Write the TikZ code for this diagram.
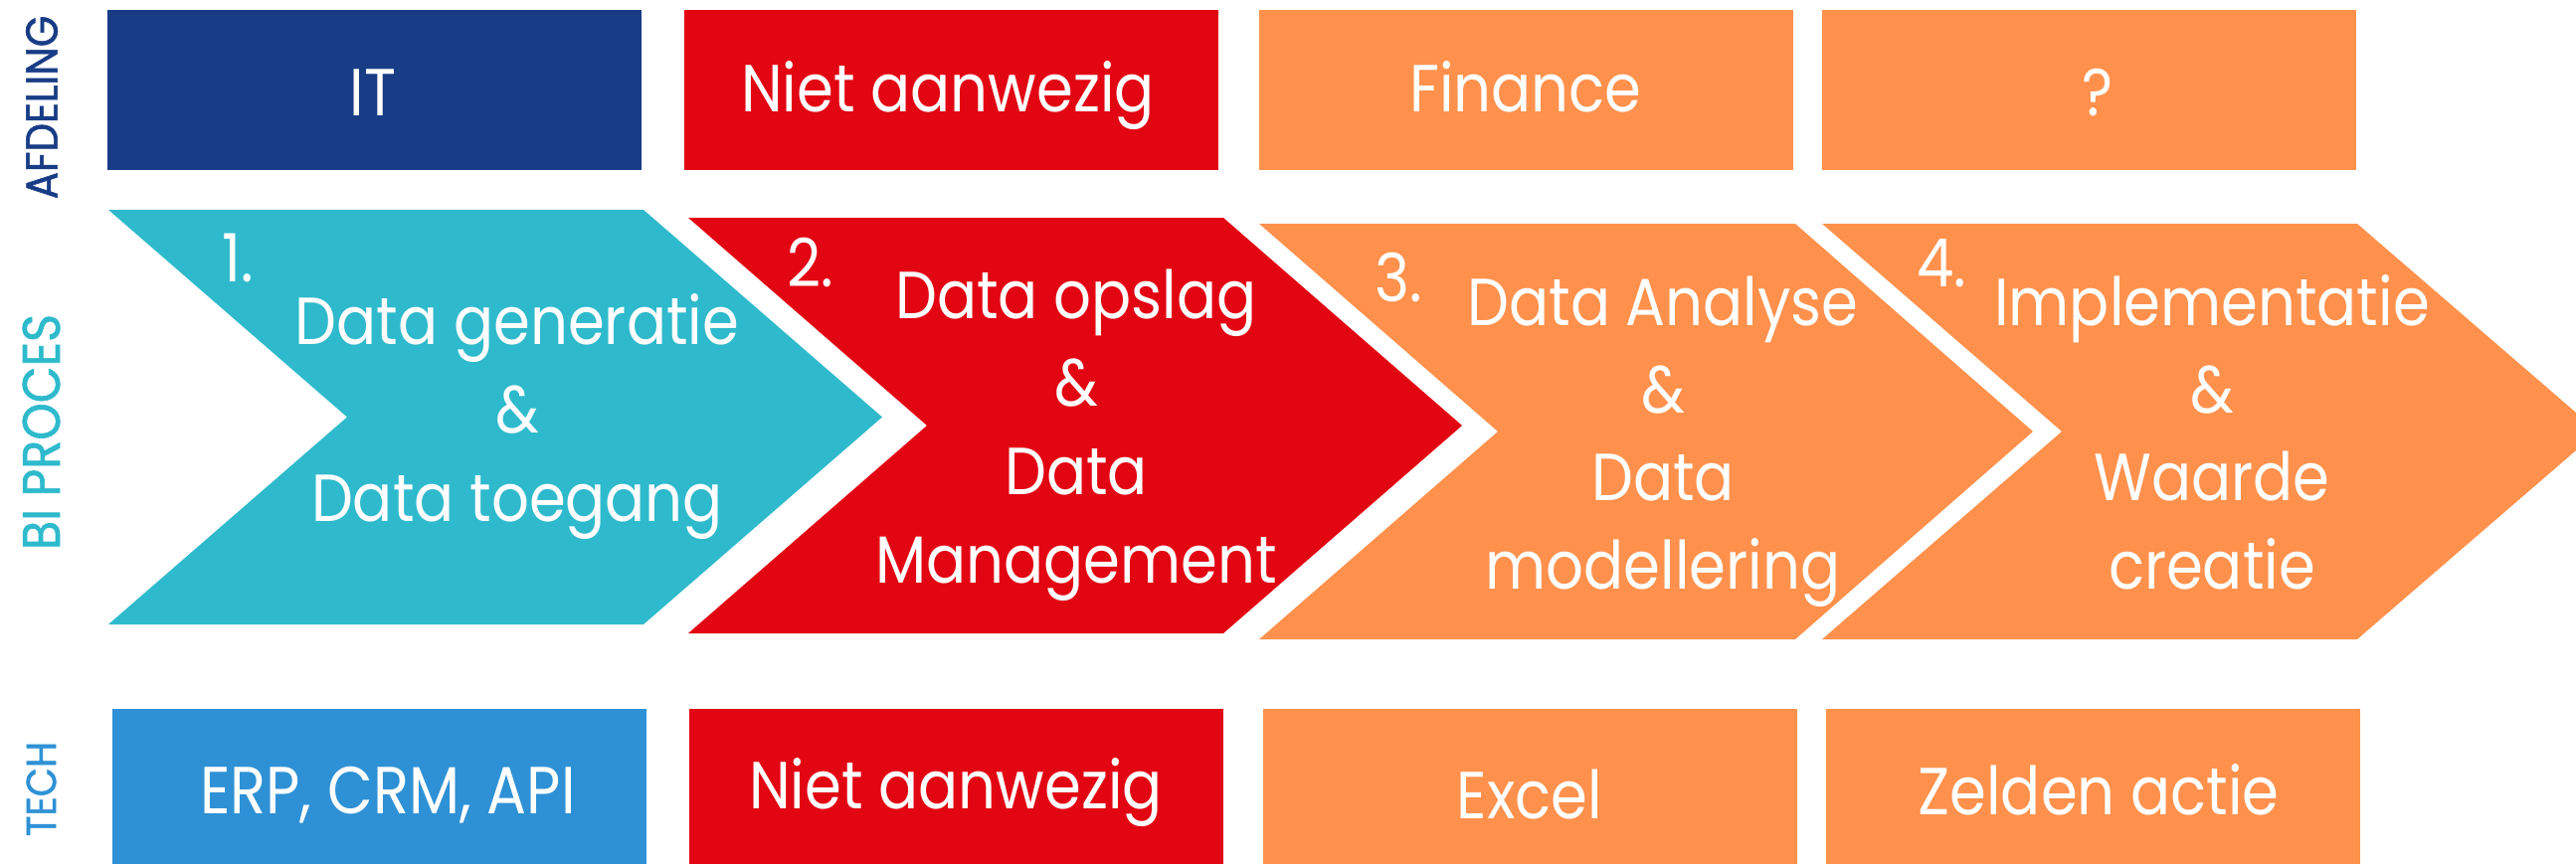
\documentclass[tikz,border=0pt]{standalone}
\usepackage{fontspec}
\setmainfont{Poppins}[FakeStretch=0.885]
\newfontfamily\sidefont{Poppins}[FakeStretch=0.9,FakeBold=1.2]
\definecolor{navy}{HTML}{183C85}
\definecolor{redc}{HTML}{E20613}
\definecolor{orangec}{HTML}{FF914D}
\definecolor{tealc}{HTML}{2EBACC}
\definecolor{bluec}{HTML}{2E91D5}
\begin{document}
\begin{tikzpicture}[x=1pt,y=-1pt,
  box/.style={rectangle,inner sep=0pt,outer sep=0pt,minimum width=537pt,minimum height=#1},
  txt/.style={inner sep=0pt,text=white,anchor=base,font=\fontsize{67}{80}\selectfont},
  num/.style={inner sep=0pt,text=white,anchor=base west,font=\fontsize{67}{80}\selectfont},
  side/.style={inner sep=0pt,rotate=90,anchor=center}]
\useasboundingbox (0,0) rectangle (2590,869);
\clip (0,0) rectangle (2590,869);
% side labels
\node[side,text=navy,font=\sidefont\fontsize{45}{50}\selectfont] (lafd) at (42,108) {AFDELING};
\node[side,text=tealc,font=\sidefont\fontsize{53}{60}\selectfont] (lbi) at (41.5,434.5) {BI PROCES};
\node[side,text=bluec,font=\sidefont\fontsize{42}{50}\selectfont] (ltech) at (41.5,793.5) {TECH};
% top row
\node[box=161pt,fill=navy] (b1) at (376.5,90.5) {};
\node[box=161pt,fill=redc] (b2) at (956.5,90.5) {};
\node[box=161pt,fill=orangec] (b3) at (1534.5,90.5) {};
\node[box=161pt,fill=orangec] (b4) at (2100.5,90.5) {};
\node[txt] (t1) at (375,117) {IT};
\node[txt] (t2) at (953,113) {Niet aanwezig};
\node[txt] (t3) at (1534,113) {Finance};
\node[txt] (t4) at (2109,117) {?};
% chevrons
\fill[tealc] (109,211) -- (647,211) -- (887,419.5) -- (647,628) -- (109,628) -- (349,419.5) -- cycle;
\fill[redc] (692,219) -- (1230,219) -- (1470,428) -- (1230,637) -- (692,637) -- (932,428) -- cycle;
\fill[orangec] (1266,225) -- (1805,225) -- (2044,434) -- (1805,643) -- (1266,643) -- (1506,434) -- cycle;
\fill[orangec] (1832,225) -- (2370,225) -- (2612,434) -- (2370,643) -- (1832,643) -- (2073,434) -- cycle;
% chevron 1 text
\node[num] (n1) at (223,283) {1.};
\node[txt] (c1a) at (520,346) {Data generatie};
\node[txt] (c1b) at (520,435) {\&};
\node[txt] (c1c) at (520,524) {Data toegang};
% chevron 2 text
\node[num] (n2) at (791,288) {2.};
\node[txt] (c2a) at (1082,320) {Data opslag};
\node[txt] (c2b) at (1082,408) {\&};
\node[txt] (c2c) at (1082,497) {Data};
\node[txt] (c2d) at (1082,586) {Management};
% chevron 3 text
\node[num] (n3) at (1382,303) {3.};
\node[txt] (c3a) at (1672,327) {Data Analyse};
\node[txt] (c3b) at (1672,415) {\&};
\node[txt] (c3c) at (1672,503) {Data};
\node[txt] (c3d) at (1672,592) {modellering};
% chevron 4 text
\node[num] (n4) at (1927,288) {4.};
\node[txt] (c4a) at (2224,327) {Implementatie};
\node[txt] (c4b) at (2224,415) {\&};
\node[txt] (c4c) at (2224,503) {Waarde};
\node[txt] (c4d) at (2224,592) {creatie};
% bottom row
\node[box=160pt,fill=bluec] (d1) at (381.5,793) {};
\node[box=160pt,fill=redc] (d2) at (961.5,793) {};
\node[box=160pt,fill=orangec] (d3) at (1538.5,793) {};
\node[box=160pt,fill=orangec] (d4) at (2104,793) {};
\node[txt] (e1) at (390,818) {ERP, CRM, API};
\node[txt] (e2) at (961,813) {Niet aanwezig};
\node[txt] (e3) at (1538,823) {Excel};
\node[txt] (e4) at (2110,819) {Zelden actie};
\end{tikzpicture}
\end{document}
